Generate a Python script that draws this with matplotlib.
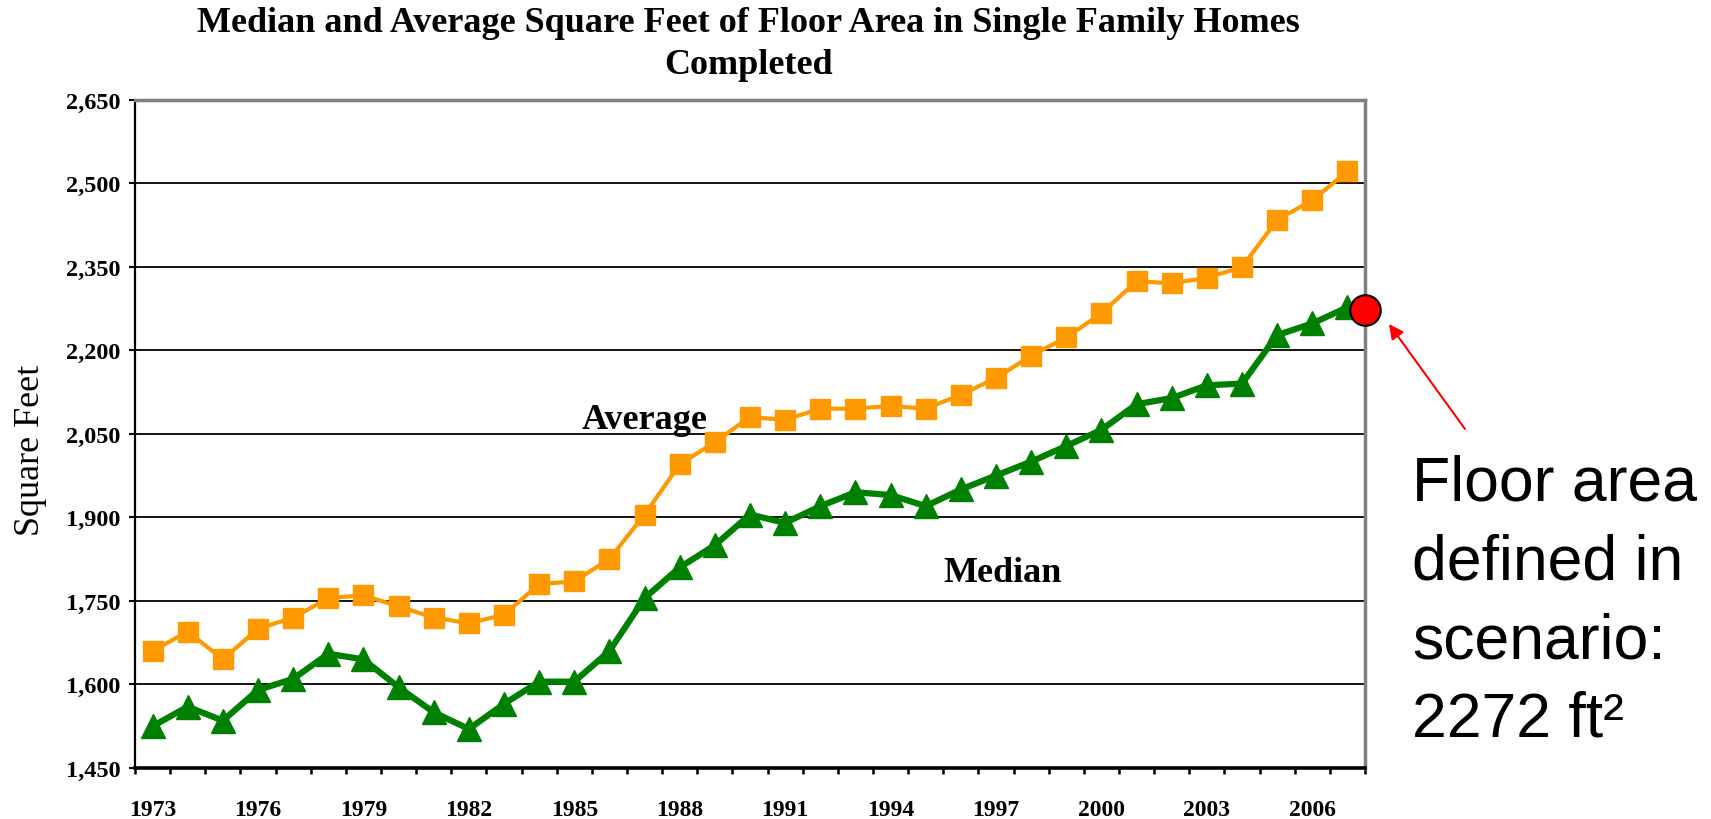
import numpy as np
import matplotlib
matplotlib.use("Agg")
import matplotlib.pyplot as plt

# Census completed single-family homes, square feet of floor area
years = list(range(1973, 2008))
average_sqft = [1660, 1695, 1645, 1700, 1720, 1755, 1760, 1740, 1720, 1710,
                1725, 1780, 1785, 1825, 1905, 1995, 2035, 2080, 2075, 2095,
                2095, 2100, 2095, 2120, 2150, 2190, 2223, 2266, 2324, 2320,
                2330, 2349, 2434, 2469, 2521]
median_sqft = [1525, 1560, 1535, 1590, 1610, 1655, 1645, 1595, 1550, 1520,
               1565, 1605, 1605, 1660, 1755, 1810, 1850, 1905, 1890, 1920,
               1945, 1940, 1920, 1950, 1975, 2000, 2028, 2057, 2103, 2114,
               2137, 2140, 2227, 2248, 2277]
year_labels = [str(y) for y in range(1973, 2007, 3)]
y_ticks = [1450, 1600, 1750, 1900, 2050, 2200, 2350, 2500, 2650]
scenario_sqft = 2272

serif = "Liberation Serif"
sans = "Liberation Sans"

fig = plt.figure(figsize=(17.11, 8.20), dpi=100)
ax = fig.add_axes([135 / 1711, 1 - 769 / 820, 1230 / 1711, 668.5 / 820])

x = np.arange(len(years))
ax.plot(x, average_sqft, color="#FF9900", lw=3, marker="s", markersize=15,
        zorder=3, clip_on=False)
ax.plot(x, median_sqft, color="#008000", lw=4.5, marker="^", markersize=17,
        zorder=3, clip_on=False)

ax.set_xlim(-0.5, len(years) - 0.5)
ax.set_ylim(y_ticks[0], y_ticks[-1])

# horizontal gridlines
ax.set_yticks(y_ticks)
ax.set_yticklabels([f"{v:,}" for v in y_ticks], fontfamily=serif,
                   fontweight="bold", fontsize=17.5)
ax.yaxis.grid(True, color="black", lw=1.3)
ax.set_axisbelow(True)
ax.tick_params(axis="y", direction="out", length=4.5, width=1.5, pad=6)

# category axis: tick marks between years, labels every third year
ax.set_xticks(np.arange(-0.5, len(years)), minor=False)
ax.set_xticklabels([])
ax.set_xticks(np.arange(0, len(years) - 1, 3), minor=True)
ax.set_xticklabels(year_labels, minor=True, fontfamily=serif,
                   fontweight="bold", fontsize=17)
ax.tick_params(axis="x", which="major", direction="out", length=4, width=1.8)
ax.tick_params(axis="x", which="minor", length=0, pad=22)

for side in ["top", "right"]:
    ax.spines[side].set_color("#808080")
    ax.spines[side].set_linewidth(2.5)
ax.spines["left"].set_linewidth(1.6)
ax.spines["bottom"].set_linewidth(2.6)

ax.set_ylabel("Square Feet", fontfamily=serif, fontsize=26)
ax.yaxis.set_label_coords((47 - 135) / 1230, (769 - 450) / 668.5)

fig.text(0.4375, 1 - 32 / 820,
         "Median and Average Square Feet of Floor Area in Single Family Homes",
         ha="center", va="baseline", fontfamily=serif, fontweight="bold",
         fontsize=26)
fig.text(0.4375, 1 - 74 / 820, "Completed",
         ha="center", va="baseline", fontfamily=serif, fontweight="bold",
         fontsize=26)

ax.text(14, 2060, "Average", ha="center", va="baseline", fontfamily=serif,
        fontweight="bold", fontsize=26)
ax.text(24.2, 1786, "Median", ha="center", va="baseline", fontfamily=serif,
        fontweight="bold", fontsize=26)

# scenario point and annotation
ax.plot([len(years) - 0.5], [scenario_sqft], marker="o", markersize=22,
        markerfacecolor="red", markeredgecolor="black", markeredgewidth=1.5,
        clip_on=False, zorder=5)
ax.annotate("", xy=(1389 / 1711, 1 - 325 / 820), xycoords="figure fraction",
            xytext=(1465 / 1711, 1 - 430 / 820), textcoords="figure fraction",
            arrowprops=dict(arrowstyle="-|>", color="red", lw=1.5,
                            mutation_scale=22, shrinkA=0, shrinkB=0))
fig.text(1412 / 1711, 1 - 737 / 820,
         "Floor area\ndefined in\nscenario:\n2272 ft\u00b2",
         ha="left", va="baseline", fontfamily=sans, fontsize=45,
         linespacing=1.43)

fig.savefig("out.png", dpi=100)
